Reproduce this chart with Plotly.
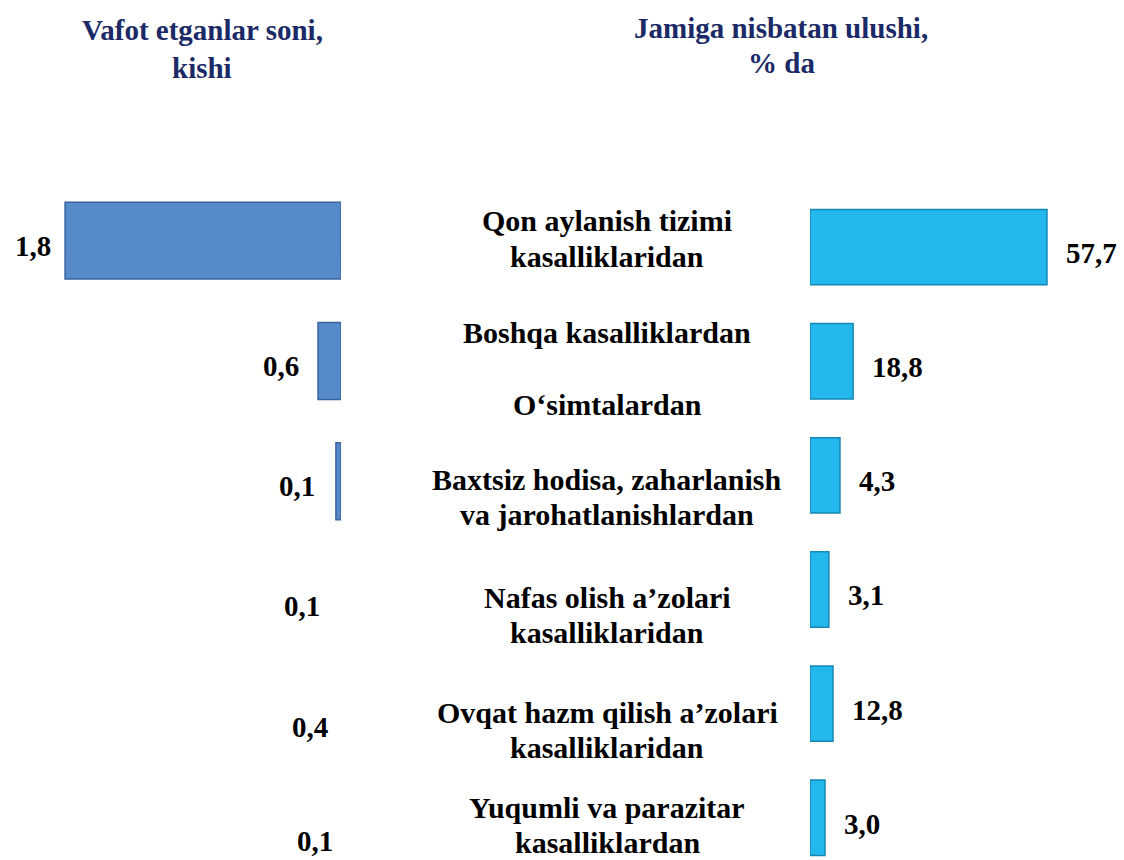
import plotly.graph_objects as go

# ---------------- data ----------------
categories = [
    "Qon aylanish tizimi\nkasalliklaridan",
    "Boshqa kasalliklardan",
    "O‘simtalardan",
    "Baxtsiz hodisa, zaharlanish\nva jarohatlanishlardan",
    "Nafas olish a’zolari\nkasalliklaridan",
    "Ovqat hazm qilish a’zolari\nkasalliklaridan",
    "Yuqumli va parazitar\nkasalliklardan",
]
bar_rows = ["r1", "r2", "r3", "r4", "r5", "r6"]

# left panel: "Vafot etganlar soni, kishi"
left_labels = ["1,8", "0,6", "0,1", "0,1", "0,4", "0,1"]
left_bar_length = [1.8, 0.15, 0.033, 0.0, 0.0, 0.0]     # drawn bar lengths

# right panel: "Jamiga nisbatan ulushi, % da"
right_labels = ["57,7", "18,8", "4,3", "3,1", "12,8", "3,0"]
right_bar_length = [57.7, 10.5, 7.3, 4.6, 5.6, 3.65]   # drawn bar lengths

left_title = "Vafot etganlar soni,\nkishi"
right_title = "Jamiga nisbatan ulushi,\n% da"

# ---------------- layout constants ----------------
W, H = 1124, 860
FONT = "Liberation Serif"
LEFT_COLOR = "#578AC9"
LEFT_EDGE = "#3A64A0"
RIGHT_COLOR = "#22B8EE"
RIGHT_EDGE = "#1687B5"
TITLE_COLOR = "#1B2A66"


def px_x(p):
    return p / W


def px_y(p):
    return 1 - p / H


fig = go.Figure()

fig.add_trace(go.Bar(
    x=left_bar_length, y=bar_rows, orientation="h",
    xaxis="x", yaxis="y",
    marker=dict(color=LEFT_COLOR,
                line=dict(color=LEFT_EDGE, width=[1.5 if v > 0 else 0 for v in left_bar_length])),
    width=0.64, hoverinfo="skip", showlegend=False,
))
fig.add_trace(go.Bar(
    x=right_bar_length, y=bar_rows, orientation="h",
    xaxis="x2", yaxis="y2",
    marker=dict(color=RIGHT_COLOR,
                line=dict(color=RIGHT_EDGE, width=[1.5 if v > 0 else 0 for v in right_bar_length])),
    width=0.66, hoverinfo="skip", showlegend=False,
))

annotations = []

# value labels, left panel (placed just left of each bar's end)
left_label_gap = [-13, -18, -20, -20, -12, -7]
left_label_dy = [-5, -5, -5, -5, -5, 1]
for row, val, txt, gap, dy in zip(bar_rows, left_bar_length, left_labels, left_label_gap, left_label_dy):
    annotations.append(dict(
        x=val, y=row, xref="x", yref="y", text="<b>%s</b>" % txt, showarrow=False,
        xanchor="right", yanchor="middle", xshift=gap, yshift=dy, borderpad=0,
        font=dict(family=FONT, size=29, color="black"),
    ))

# value labels, right panel
for row, val, txt in zip(bar_rows, right_bar_length, right_labels):
    annotations.append(dict(
        x=val, y=row, xref="x2", yref="y2", text="<b>%s</b>" % txt, showarrow=False,
        xanchor="left", yanchor="middle", xshift=18, yshift=-6, borderpad=0,
        font=dict(family=FONT, size=29, color="black"),
    ))

# centre category labels
center_x_px = 607
center_y_px = [238.5, 332, 405, 497, 615, 730, 824.5]
line_gap = 35
for label, cy in zip(categories, center_y_px):
    lines = label.split("\n")
    n = len(lines)
    for j, line in enumerate(lines):
        yy = cy + (j - (n - 1) / 2) * line_gap
        annotations.append(dict(
            x=px_x(center_x_px), y=px_y(yy), xref="paper", yref="paper",
            text="<b>%s</b>" % line, showarrow=False, borderpad=0,
            xanchor="center", yanchor="middle",
            font=dict(family=FONT, size=30, color="black"),
        ))

# panel titles
for title, cx, ys in [(left_title, 202, [30, 68]), (right_title, 781, [28, 63])]:
    for line, yy in zip(title.split("\n"), ys):
        annotations.append(dict(
            x=px_x(cx), y=px_y(yy), xref="paper", yref="paper",
            text="<b>%s</b>" % line, showarrow=False, borderpad=0,
            xanchor="center", yanchor="middle",
            font=dict(family=FONT, size=29, color=TITLE_COLOR),
        ))

hidden = dict(showgrid=False, zeroline=False, showticklabels=False,
              showline=False, ticks="", fixedrange=True)

fig.update_layout(
    width=W, height=H,
    margin=dict(l=0, r=0, t=0, b=0),
    paper_bgcolor="white", plot_bgcolor="rgba(0,0,0,0)",
    barmode="overlay",
    font=dict(family=FONT),
    xaxis=dict(domain=[0, px_x(341)], range=[341 / 153.3, 0], **hidden),
    yaxis=dict(domain=[0, px_y(180.5)], type="category",
               categoryorder="array", categoryarray=bar_rows,
               range=[5.15, -0.5], anchor="x", **hidden),
    xaxis2=dict(domain=[px_x(810), 1], range=[0, 314 / 4.107], anchor="y2", **hidden),
    yaxis2=dict(domain=[0, px_y(190)], type="category",
                categoryorder="array", categoryarray=bar_rows,
                range=[5.37, -0.5], anchor="x2", **hidden),
    annotations=annotations,
)

fig.write_html("out.html")
